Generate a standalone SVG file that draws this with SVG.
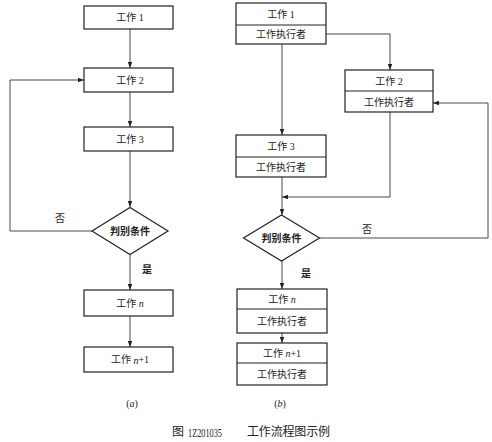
<svg xmlns="http://www.w3.org/2000/svg" width="492" height="442" viewBox="0 0 492 442">
<style>
.box{fill:#fff;stroke:#222;stroke-width:1.2}
.div{stroke:#222;stroke-width:1}
.ln{fill:none;stroke:#333;stroke-width:0.9}
text{font-family:"Liberation Serif","Noto Sans CJK SC",serif;font-size:10px;fill:#222;text-anchor:middle;dominant-baseline:central}
.i{font-style:italic}
.cap{font-size:12px;text-anchor:start}
.num{font-size:13px}
.lbl{font-weight:bold}
</style>
<defs>
<marker id="ah" viewBox="0 0 8 6" refX="8" refY="3" markerWidth="6" markerHeight="4.5" orient="auto" markerUnits="userSpaceOnUse">
<path d="M0,0 L8,3 L0,6 z" fill="#222"/>
</marker>
</defs>
<rect width="492" height="442" fill="#fff"/>

<g id="connectors">
<path class="ln" d="M130,29 V68" marker-end="url(#ah)"/>
<path class="ln" d="M130,92 V127" marker-end="url(#ah)"/>
<path class="ln" d="M130,151 V207" marker-end="url(#ah)"/>
<path class="ln" d="M130,254 V290" marker-end="url(#ah)"/>
<path class="ln" d="M130,316 V347" marker-end="url(#ah)"/>
<path class="ln" d="M92,231 H10 V80 H84" marker-end="url(#ah)"/>
<path class="ln" d="M326,34 H390 V70" marker-end="url(#ah)"/>
<path class="ln" d="M282,44 V135" marker-end="url(#ah)"/>
<path class="ln" d="M390,112 V197 H282" marker-end="url(#ah)"/>
<path class="ln" d="M282,177 V215" marker-end="url(#ah)"/>
<path class="ln" d="M319.5,238 H488 V103 H433" marker-end="url(#ah)"/>
<path class="ln" d="M282,261 V289" marker-end="url(#ah)"/>
<path class="ln" d="M282,333 V343" marker-end="url(#ah)"/>
<text x="60" y="218">否</text>
<text x="147" y="269" class="lbl">是</text>
<text x="367" y="229">否</text>
<text x="306" y="273" class="lbl">是</text>
</g>

<g id="a-work1"><rect class="box" x="84" y="6" width="89" height="23"/><text x="130" y="17.5">工作 1</text></g>
<g id="a-work2"><rect class="box" x="84" y="68" width="89" height="24"/><text x="130" y="80">工作 2</text></g>
<g id="a-work3"><rect class="box" x="84" y="127" width="89" height="24"/><text x="130" y="139">工作 3</text></g>
<g id="a-cond"><path class="box" d="M130,207.5 L168,231 L130,254.5 L92,231 z"/><text x="130" y="231" class="lbl">判别条件</text></g>
<g id="a-workn"><rect class="box" x="84" y="290" width="89" height="26"/><text x="130" y="303">工作 <tspan class="i">n</tspan></text></g>
<g id="a-workn1"><rect class="box" x="84" y="347" width="89" height="25"/><text x="130" y="359.5">工作 <tspan class="i">n</tspan>+1</text></g>
<text x="132" y="403"><tspan>(</tspan><tspan class="i">a</tspan><tspan>)</tspan></text>

<g id="b-work1"><rect class="box" x="236" y="3" width="90" height="41"/><line class="div" x1="236" y1="25" x2="326" y2="25"/><text x="281" y="14">工作 1</text><text x="281" y="34.5">工作执行者</text></g>
<g id="b-work2"><rect class="box" x="345" y="70" width="88" height="42"/><line class="div" x1="345" y1="91" x2="433" y2="91"/><text x="389" y="81">工作 2</text><text x="389" y="102">工作执行者</text></g>
<g id="b-work3"><rect class="box" x="236" y="135" width="90" height="42"/><line class="div" x1="236" y1="157" x2="326" y2="157"/><text x="281" y="146">工作 3</text><text x="281" y="167.5">工作执行者</text></g>
<g id="b-cond"><path class="box" d="M281.5,215 L319.5,238 L281.5,261 L243.5,238 z"/><text x="281.5" y="238" class="lbl">判别条件</text></g>
<g id="b-workn"><rect class="box" x="237" y="289" width="90" height="44"/><line class="div" x1="237" y1="309" x2="327" y2="309"/><text x="282" y="299">工作 <tspan class="i">n</tspan></text><text x="282" y="321">工作执行者</text></g>
<g id="b-workn1"><rect class="box" x="237" y="343" width="90" height="42"/><line class="div" x1="237" y1="363" x2="327" y2="363"/><text x="282" y="353">工作 <tspan class="i">n</tspan>+1</text><text x="282" y="374">工作执行者</text></g>
<text x="280" y="403"><tspan>(</tspan><tspan class="i">b</tspan><tspan>)</tspan></text>

<g id="caption">
<text x="172" y="432" class="cap">图</text>
<text x="188" y="432" class="cap num" textLength="34" lengthAdjust="spacingAndGlyphs">1Z201035</text>
<text x="247" y="432" class="cap" textLength="83">工作流程图示例</text>
</g>
</svg>
